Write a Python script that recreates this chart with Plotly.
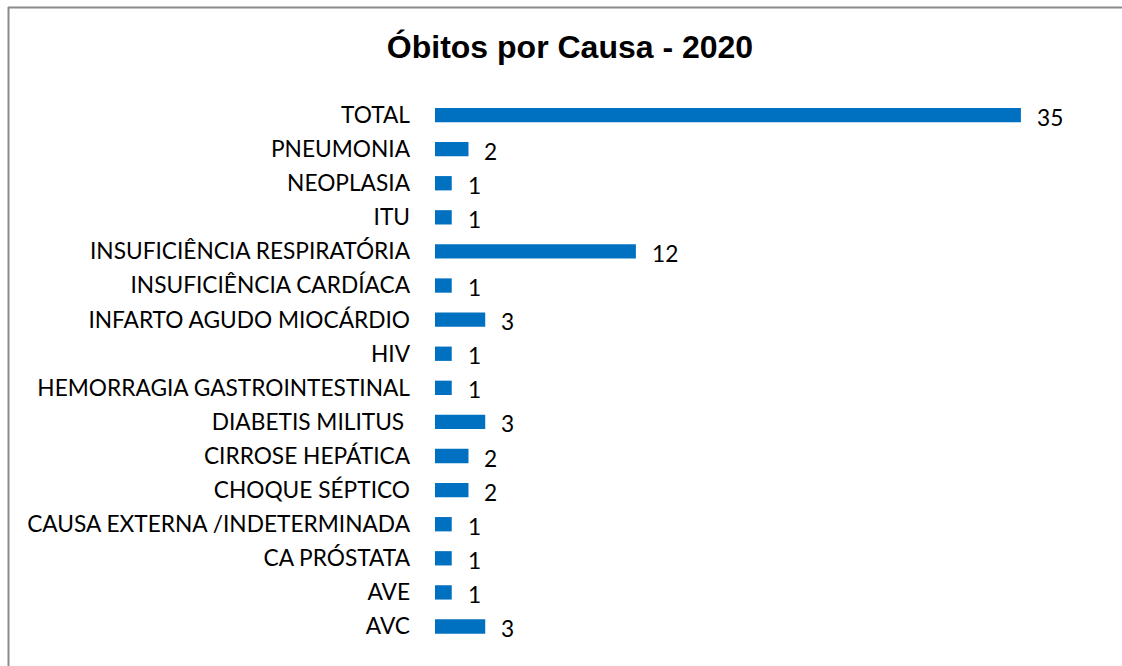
import plotly.graph_objects as go

categories = ["AVC", "AVE", "CA PRÓSTATA", "CAUSA EXTERNA /INDETERMINADA", "CHOQUE SÉPTICO",
              "CIRROSE HEPÁTICA", "DIABETIS MILITUS\u00a0", "HEMORRAGIA GASTROINTESTINAL", "HIV",
              "INFARTO AGUDO MIOCÁRDIO", "INSUFICIÊNCIA CARDÍACA", "INSUFICIÊNCIA RESPIRATÓRIA",
              "ITU", "NEOPLASIA", "PNEUMONIA", "TOTAL"]
values = [3, 1, 1, 1, 2, 2, 3, 1, 1, 3, 1, 12, 1, 1, 2, 35]
title_text = "Óbitos por Causa - 2020"

W, H = 1122, 666
ML, MR, MT, MB = 435, 22, 98, 22
pw = W - ML - MR
ph = H - MT - MB
xmax = pw / 16.74

font_lbl = "Lato, 'Open Sans', sans-serif"
FS = 22.7

fig = go.Figure()
fig.add_trace(go.Bar(
    x=values, y=categories, orientation="h",
    marker=dict(color="#0070C0", line=dict(width=0)),
    width=0.42, hoverinfo="skip",
))

for c, v in zip(categories, values):
    fig.add_annotation(x=v, y=c, text=str(v), showarrow=False, xanchor="left",
                       xshift=14, yshift=-2,
                       font=dict(family=font_lbl, size=FS, color="#000000"))

# border (cropped frame: top and left edges visible)
px = lambda p: (p - ML) / pw
py = lambda p: 1 - (p - MT) / ph
fig.add_shape(type="line", xref="paper", yref="paper", x0=px(8), x1=px(1125), y0=py(7.5), y1=py(7.5),
              line=dict(color="#8a8a8a", width=2))
fig.add_shape(type="line", xref="paper", yref="paper", x0=px(8.5), x1=px(8.5), y0=py(7), y1=py(670),
              line=dict(color="#8a8a8a", width=2))

fig.update_layout(
    width=W, height=H,
    margin=dict(l=ML, r=MR, t=MT, b=MB, autoexpand=False),
    paper_bgcolor="white", plot_bgcolor="white",
    showlegend=False,
    title=dict(text="<b>" + title_text + "</b>", x=570 / W, xanchor="center",
               y=1 - 47 / H, yanchor="middle",
               font=dict(family="Liberation Sans, Arial, sans-serif", size=32, color="#000000")),
    xaxis=dict(range=[0, xmax], visible=False, fixedrange=True),
    yaxis=dict(categoryorder="array", categoryarray=categories, showgrid=False, zeroline=False,
               showline=False, ticks="", ticklabelstandoff=24,
               tickfont=dict(family=font_lbl, size=FS, color="#000000"), fixedrange=True),
)

fig.write_html("out.html", config={"displayModeBar": False},
               post_script="document.body.style.margin='0px';document.body.style.overflow='hidden';")
